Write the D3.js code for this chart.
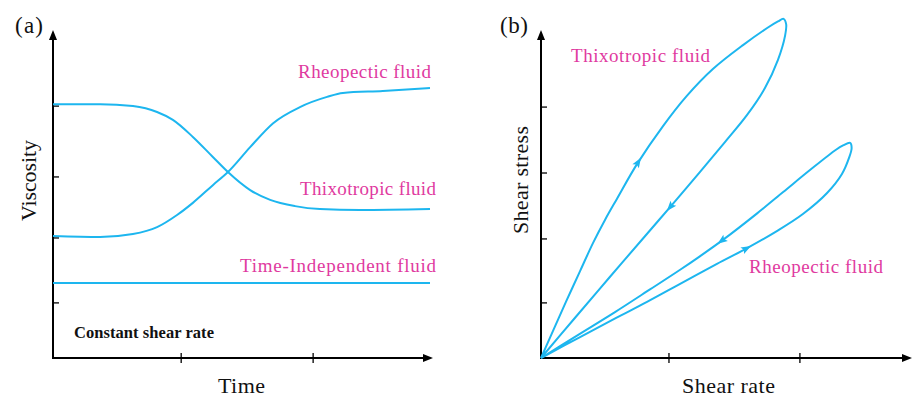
<!DOCTYPE html>
<html><head><meta charset="utf-8">
<script src="https://cdn.jsdelivr.net/npm/d3@7"></script>
<style>
body{margin:0;background:#fff}
svg{display:block}
text{font-family:"Liberation Serif","Times New Roman",serif}
</style>
</head><body>
<svg id="c" width="913" height="397"></svg>
<script>
// ---------- Panel (a): viscosity vs time at constant shear rate ----------
const thixoA_t = [0, 12.5, 21.2, 27.6, 31.8, 37.1, 42.4, 46.4, 52.3, 57.6, 64.2, 70.8, 81.4, 100];
const thixoA_v = [77.4, 77.4, 76.8, 75.0, 72.6, 67.4, 61.3, 56.7, 51.2, 48.2, 46.3, 45.4, 45.1, 45.4];
const rheoA_t  = [0, 12.5, 21.2, 27.6, 32.9, 37.1, 42.4, 46.4, 52.3, 58.4, 65.5, 72.7, 76.9, 87.5, 100];
const rheoA_v  = [37.2, 36.9, 37.8, 39.9, 43.6, 47.3, 52.7, 56.7, 64.3, 71.6, 76.5, 79.6, 80.8, 81.4, 82.3];
const indepA_t = [0, 100];
const indepA_v = [22.9, 22.9];
const ticksA_x = [34.0, 69.0];
const ticksA_y = [76.8, 55.2, 36.6, 16.8];

// ---------- Panel (b): shear stress vs shear rate hysteresis loops ----------
const thixoB_rate   = [0, 3.2, 6.7, 10.5, 14.0, 17.2, 20.4, 25.8, 32.8, 39.2, 46.2, 54.3, 60.8, 63.7, 65.2, 65.9, 65.6, 63.7, 60.2, 55.4, 49.5, 42.7, 34.7, 28.0, 18.5, 9.1, 0];
const thixoB_stress = [0, 8.2, 17.1, 26.5, 35.1, 42.1, 48.5, 59.1, 70.7, 79.9, 88.1, 95.4, 100.6, 102.6, 103.4, 101.8, 98.2, 90.9, 82.3, 74.1, 65.9, 56.7, 46.0, 37.2, 24.7, 12.2, 0];
const rheoB_rate    = [0, 10.5, 20.2, 28.5, 37.4, 47.3, 55.4, 63.4, 70.4, 76.9, 80.9, 82.8, 83.5, 83.1, 81.2, 79.3, 72.3, 65.1, 58.1, 48.9, 42.7, 37.4, 29.3, 19.9, 9.9, 0];
const rheoB_stress  = [0, 6.4, 12.2, 17.1, 22.6, 28.7, 33.5, 38.7, 43.9, 50.3, 56.1, 61.0, 64.0, 65.6, 64.8, 63.5, 57.3, 50.6, 44.1, 36.0, 31.0, 26.9, 20.9, 14.0, 7.0, 0];
const arrowsB_rate   = [26.1, 34.7, 48.9, 55.4];
const arrowsB_stress = [59.8, 46.0, 35.1, 33.2];
const ticksB_x = [34.4, 69.6];
const ticksB_y = [76.5, 56.4, 36.3, 16.8];

const BLUE = "#1db6ef", PINK = "#df3aa0";
const svg = d3.select("#c");

function zip(xs, ys){ return xs.map((x,i)=>[x, ys[i]]); }

function drawAxes(g, x, y, xt, yt, tipX){
  const x0 = x.range()[0];
  const y0 = y.range()[0], y1 = y.range()[1];
  g.append("line").attr("x1", x0).attr("x2", tipX - 6).attr("y1", y0).attr("y2", y0)
    .attr("stroke", "#000").attr("stroke-width", 2);
  g.append("line").attr("x1", x0).attr("x2", x0).attr("y1", y0 + 1).attr("y2", y1 + 6)
    .attr("stroke", "#000").attr("stroke-width", 2);
  g.append("path").attr("d", `M${tipX},${y0} L${tipX-10},${y0-4} L${tipX-10},${y0+4}Z`).attr("fill", "#000");
  g.append("path").attr("d", `M${x0},${y1} L${x0-4},${y1+10} L${x0+4},${y1+10}Z`).attr("fill", "#000");
  xt.forEach(v => g.append("line").attr("x1", x(v)).attr("x2", x(v)).attr("y1", y0 - 5).attr("y2", y0 + 5)
    .attr("stroke", "#000").attr("stroke-width", 1.3));
  yt.forEach(v => g.append("line").attr("x1", x0).attr("x2", x0 + 6).attr("y1", y(v)).attr("y2", y(v))
    .attr("stroke", "#000").attr("stroke-width", 1.3));
}

// ---- Panel (a)
const xA = d3.scaleLinear().domain([0, 100]).range([53, 430]);
const yA = d3.scaleLinear().domain([0, 100]).range([358, 30]);
const gA = svg.append("g");
drawAxes(gA, xA, yA, ticksA_x, ticksA_y, 433);
const lineA = d3.line().x(d => xA(d[0])).y(d => yA(d[1])).curve(d3.curveMonotoneX);
[[thixoA_t, thixoA_v], [rheoA_t, rheoA_v], [indepA_t, indepA_v]].forEach(([t, v]) => {
  gA.append("path").attr("d", lineA(zip(t, v))).attr("fill", "none")
    .attr("stroke", BLUE).attr("stroke-width", 2);
});

// ---- Panel (b)
const xB = d3.scaleLinear().domain([0, 100]).range([541, 913]);
const yB = d3.scaleLinear().domain([0, 100]).range([358, 30]);
const gB = svg.append("g");
drawAxes(gB, xB, yB, ticksB_x, ticksB_y, 912);
const lineB = d3.line().x(d => xB(d[0])).y(d => yB(d[1])).curve(d3.curveCatmullRom.alpha(0.5));
const loops = [];
[[thixoB_rate, thixoB_stress], [rheoB_rate, rheoB_stress]].forEach(([r, s]) => {
  loops.push(gB.append("path").attr("d", lineB(zip(r, s))).attr("fill", "none")
    .attr("stroke", BLUE).attr("stroke-width", 2).node());
});

// direction arrows placed on the loops
arrowsB_rate.forEach((r, i) => {
  const px = xB(r), py = yB(arrowsB_stress[i]);
  let best = null;
  loops.forEach(node => {
    const L = node.getTotalLength();
    for (let l = 3; l < L - 3; l += 0.5) {
      const p = node.getPointAtLength(l);
      const d = (p.x - px) ** 2 + (p.y - py) ** 2;
      if (!best || d < best.d) best = {d, l, node};
    }
  });
  const a = best.node.getPointAtLength(best.l - 2), b = best.node.getPointAtLength(best.l + 2);
  const c = best.node.getPointAtLength(best.l);
  const ang = Math.atan2(b.y - a.y, b.x - a.x) * 180 / Math.PI;
  gB.append("path").attr("d", "M5,0 L-5,-3.8 L-3,0 L-5,3.8Z")
    .attr("transform", `translate(${c.x},${c.y}) rotate(${ang})`).attr("fill", BLUE);
});

// ---- Texts
function txt(x, y, s, size, opts = {}) {
  const t = svg.append("text").attr("x", x).attr("y", y).text(s)
    .attr("font-size", size).attr("fill", opts.fill || "#111");
  if (opts.weight) t.attr("font-weight", opts.weight);
  if (opts.len) t.attr("textLength", opts.len).attr("lengthAdjust", "spacing");
  if (opts.rot) t.attr("transform", `rotate(-90,${x},${y})`);
  return t;
}
txt(15, 33, "(a)", 23, {len: 28});
txt(500, 33, "(b)", 23, {len: 28});
txt(298, 78, "Rheopectic fluid", 19, {fill: PINK, len: 133});
txt(300, 195, "Thixotropic fluid", 19, {fill: PINK, len: 136});
txt(240, 272, "Time-Independent fluid", 19, {fill: PINK, len: 196});
txt(74, 338, "Constant shear rate", 16.5, {weight: "bold", len: 140});
txt(218, 393, "Time", 22, {len: 47});
txt(36, 221, "Viscosity", 22, {rot: true, len: 81});
txt(571, 62, "Thixotropic fluid", 19, {fill: PINK, len: 139});
txt(749, 273, "Rheopectic fluid", 19, {fill: PINK, len: 134});
txt(682, 393, "Shear rate", 22, {len: 93});
txt(528, 234, "Shear stress", 22, {rot: true, len: 108});
</script>
</body></html>
